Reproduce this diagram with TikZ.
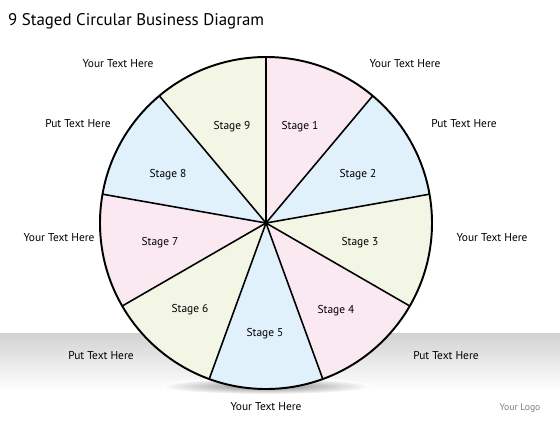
\documentclass[tikz,border=0pt]{standalone}
\usepackage{fontspec}
\setmainfont{PT Sans}
\usepackage{xcolor}
\usepackage{tikz}

\definecolor{slicepink}{HTML}{FBE9F1}
\definecolor{sliceblue}{HTML}{E1F1FB}
\definecolor{slicegreen}{HTML}{F3F6E5}

\tikzset{
  stagetext/.style={text=black, font=\fontsize{6.5}{7}\selectfont},
  sidetext/.style={text=black, font=\fontsize{6.5}{7}\selectfont},
  border/.style={draw=black, line width=0.9pt, line join=round}
}

\begin{document}
\begin{tikzpicture}[x=0.02cm, y=0.02cm]
                    \useasboundingbox (-266,-197) rectangle (294,223);
                    % grey floor and shadow
                    \shade[top color=gray!35, bottom color=white] (-266,-110) rectangle (294,-168);
                    \shade[inner color=gray!95, outer color=white] (0,-163) ellipse (105 and 8);

                    % slices
                    \fill[slicepink]  (0,0) -- (90:166) arc[start angle=90, end angle=50, radius=166] -- cycle;
                    \fill[sliceblue]  (0,0) -- (50:166) arc[start angle=50, end angle=10, radius=166] -- cycle;
                    \fill[slicegreen] (0,0) -- (10:166) arc[start angle=10, end angle=-30, radius=166] -- cycle;
                    \fill[slicepink]  (0,0) -- (-30:166) arc[start angle=-30, end angle=-70, radius=166] -- cycle;
                    \fill[sliceblue]  (0,0) -- (-70:166) arc[start angle=-70, end angle=-110, radius=166] -- cycle;
                    \fill[slicegreen] (0,0) -- (-110:166) arc[start angle=-110, end angle=-150, radius=166] -- cycle;
                    \fill[slicepink]  (0,0) -- (-150:166) arc[start angle=-150, end angle=-190, radius=166] -- cycle;
                    \fill[sliceblue]  (0,0) -- (170:166) arc[start angle=170, end angle=130, radius=166] -- cycle;
                    \fill[slicegreen] (0,0) -- (130:166) arc[start angle=130, end angle=90, radius=166] -- cycle;

                    \draw[border] (0,0) -- (90:166);
                    \draw[border] (0,0) -- (50:166);
                    \draw[border] (0,0) -- (10:166);
                    \draw[border] (0,0) -- (-30:166);
                    \draw[border] (0,0) -- (-70:166);
                    \draw[border] (0,0) -- (-110:166);
                    \draw[border] (0,0) -- (-150:166);
                    \draw[border] (0,0) -- (170:166);
                    \draw[border] (0,0) -- (130:166);
                    \draw[border, line width=1.1pt] (0,0) circle (166);

                    % stage names
                    \node[stagetext] (S1) at (34,96) {Stage 1};
                    \node[stagetext] (S2) at (92,48) {Stage 2};
                    \node[stagetext] (S3) at (94,-20) {Stage 3};
                    \node[stagetext] (S4) at (70,-88) {Stage 4};
                    \node[stagetext] (S5) at (-1,-111) {Stage 5};
                    \node[stagetext] (S6) at (-76,-87) {Stage 6};
                    \node[stagetext] (S7) at (-106,-20) {Stage 7};
                    \node[stagetext] (S8) at (-98,48) {Stage 8};
                    \node[stagetext] (S9) at (-34,96) {Stage 9};

                    % texts round the circle
                    \node[sidetext] (T1) at (139,159) {Your Text Here};
                    \node[sidetext] (T2) at (198,99) {Put Text Here};
                    \node[sidetext] (T3) at (226,-15) {Your Text Here};
                    \node[sidetext] (T4) at (180,-133) {Put Text Here};
                    \node[sidetext] (T5) at (0,-184) {Your Text Here};
                    \node[sidetext] (T6) at (-165,-133) {Put Text Here};
                    \node[sidetext] (T7) at (-207,-15) {Your Text Here};
                    \node[sidetext] (T8) at (-188,99) {Put Text Here};
                    \node[sidetext] (T9) at (-148,159) {Your Text Here};

                    \node[anchor=west, text=black, font=\fontsize{9.6}{12}\selectfont] (title) at (-264,202) {9 Staged Circular Business Diagram};
                    \node[text=gray, font=\fontsize{5.5}{6}\selectfont] (logo) at (254,-185) {Your Logo};
                 \end{tikzpicture}
\end{document}
